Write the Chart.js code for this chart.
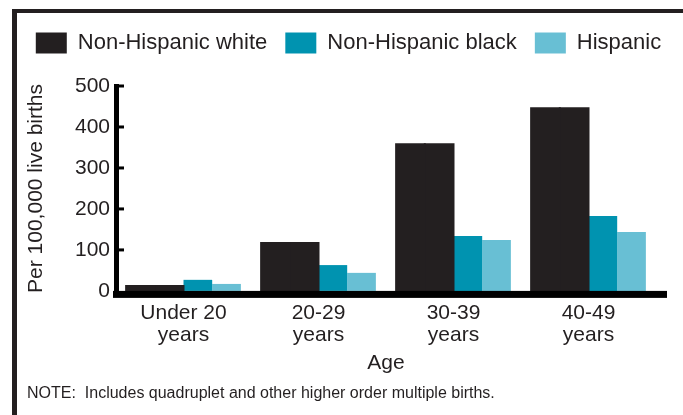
<!DOCTYPE html>
<html>
<head>
<meta charset="utf-8">
<script src="https://cdn.jsdelivr.net/npm/chart.js@4.4.1/dist/chart.umd.min.js"></script>
<style>
  html, body { margin: 0; padding: 0; background: #fff; }
</style>
</head>
<body>
<canvas id="barChart" width="683" height="415"></canvas>
<script>
// age groups on the x axis (two lines each)
const ageGroups = [['Under 20', 'years'], ['20-29', 'years'], ['30-39', 'years'], ['40-49', 'years']];
// rates per 100,000 live births
const whiteRates = [12, 117, 358, 446];
const blackRates = [27, 63, 134, 183];
const hispanicRates = [17, 44, 124, 144];
const yTicks = [0, 100, 200, 300, 400, 500];
const noteText = 'NOTE:  Includes quadruplet and other higher order multiple births.';

const textColor = '#231f20';
Chart.defaults.font.family = "'Liberation Sans', Arial, sans-serif";
Chart.defaults.color = textColor;

// frame lines at top and left, plus the note
const framePlugin = {
    id: 'frame',
    afterDraw(chart) {
        const ctx = chart.ctx;
        ctx.save();
        ctx.fillStyle = textColor;
        ctx.fillRect(12, 9, 671, 4);
        ctx.fillRect(12, 9, 5, 406);
        ctx.font = "16px 'Liberation Sans', Arial, sans-serif";
        ctx.textBaseline = 'alphabetic';
        ctx.fillText(noteText, 27, 398);
        ctx.restore();
    }
};

// thick x axis line over the bar bases and inward y ticks
const axisPlugin = {
    id: 'axisDecor',
    afterDatasetsDraw(chart) {
        const { ctx, chartArea, scales: { y } } = chart;
        const base = y.getPixelForValue(0);
        ctx.save();
        ctx.fillStyle = '#000';
        ctx.fillRect(chartArea.left - 3, base, chartArea.right + 11 - (chartArea.left - 3), 7);
        yTicks.forEach(v => {
            if (v > 0) ctx.fillRect(chartArea.left, y.getPixelForValue(v) - 1.5, 8, 3);
        });
        ctx.restore();
    }
};

// extra room under the legend
const legendGap = {
    id: 'legendGap',
    beforeLayout(chart) {
        if (chart.legend && !chart.legend._gapPatched) {
            const fit = chart.legend.fit;
            chart.legend.fit = function () {
                fit.call(this);
                this.height += 22;
            };
            chart.legend._gapPatched = true;
        }
    }
};

const ctx = document.getElementById('barChart').getContext('2d');
const barChart = new Chart(ctx, {
    type: 'bar',
    data: {
        labels: ageGroups,
        datasets: [{
            label: 'Non-Hispanic white',
            data: whiteRates,
            backgroundColor: '#231f20',
            inflateAmount: 1
        }, {
            label: 'Non-Hispanic white ',   // second half of the wide white bar
            data: whiteRates,
            backgroundColor: '#231f20',
            inflateAmount: 1
        }, {
            label: 'Non-Hispanic black',
            data: blackRates,
            backgroundColor: '#0093b0'
        }, {
            label: 'Hispanic',
            data: hispanicRates,
            backgroundColor: '#68bfd4'
        }]
    },
    options: {
        responsive: false,
        animation: false,
        datasets: {
            bar: { categoryPercentage: 0.85, barPercentage: 1, borderWidth: 0 }
        },
        layout: { padding: { left: 14, right: 0, top: 14, bottom: 41 } },
        plugins: {
            legend: {
                position: 'top',
                labels: {
                    boxWidth: 31,
                    boxHeight: 21,
                    padding: 18,
                    font: { size: 22 },
                    color: textColor,
                    filter: item => item.datasetIndex !== 1
                }
            },
            tooltip: { enabled: false }
        },
        scales: {
            x: {
                grid: { display: false, drawTicks: false },
                border: { display: false },
                ticks: { padding: 11, font: { size: 21, lineHeight: 1.05 }, color: textColor },
                title: {
                    display: true,
                    text: 'Age',
                    font: { size: 21, lineHeight: 1 },
                    color: textColor,
                    padding: { top: -4, bottom: 0 }
                }
            },
            y: {
                min: 0,
                max: 500,
                afterBuildTicks: scale => { scale.ticks = yTicks.map(v => ({ value: v })); },
                afterFit: scale => { scale.width = 102; },
                grid: { display: false, drawTicks: false },
                border: { display: true, width: 5, color: '#000' },
                ticks: { padding: 6, font: { size: 21 }, color: textColor },
                title: {
                    display: true,
                    text: 'Per 100,000 live births',
                    font: { size: 21, lineHeight: 1.2 },
                    color: textColor,
                    padding: { top: 10, bottom: 0 }
                }
            },
            // empty margin on the right so the legend can use the full width
            spacer: {
                position: 'right',
                grid: { display: false, drawTicks: false },
                border: { display: false },
                ticks: { display: false },
                afterFit: scale => { scale.width = 27; }
            }
        }
    },
    plugins: [legendGap, axisPlugin, framePlugin]
});
</script>
</body>
</html>
